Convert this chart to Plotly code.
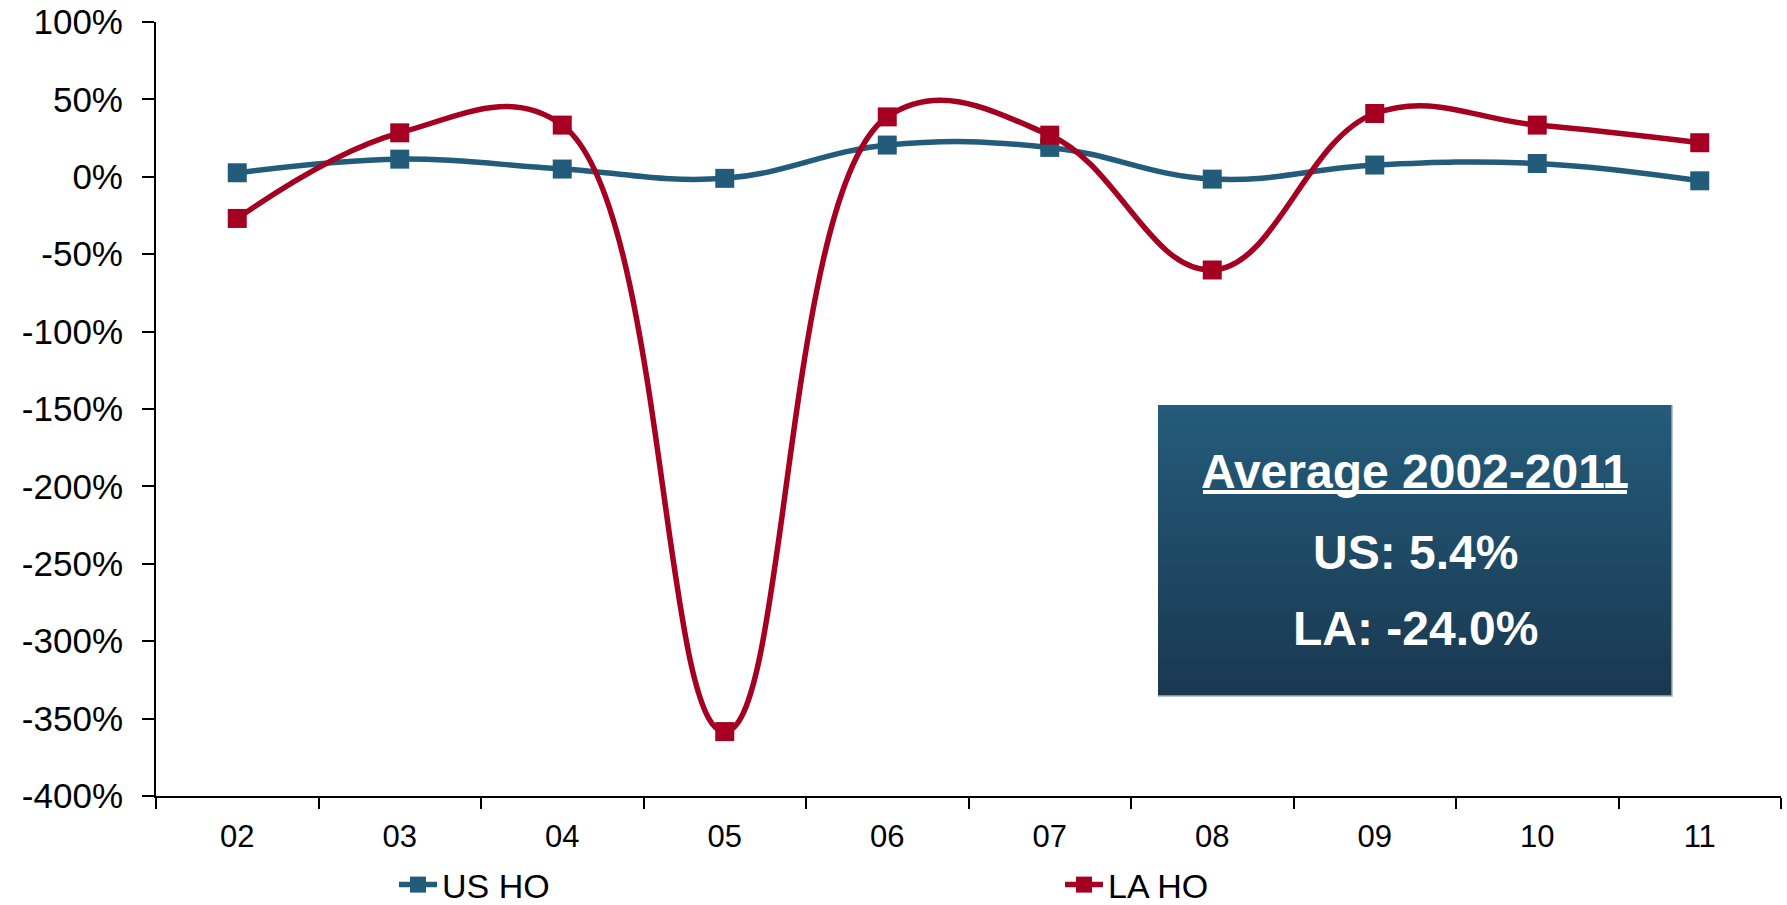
import plotly.graph_objects as go

W, H = 1787, 905
# plot area in pixels
L, R, T, B = 156, 1781, 22, 796

categories = ["02", "03", "04", "05", "06", "07", "08", "09", "10", "11"]
us_ho = [2.6, 11.4, 5.0, -1.0, 20.5, 19.0, -1.5, 7.6, 8.6, -2.6]
la_ho = [-26.9, 28.4, 33.4, -358.4, 38.7, 26.9, -60.2, 40.9, 33.4, 22.0]
y_ticks = [-400, -350, -300, -250, -200, -150, -100, -50, 0, 50, 100]
y_tick_labels = ["-400%", "-350%", "-300%", "-250%", "-200%", "-150%",
                 "-100%", "-50%", "0%", "50%", "100%"]

box_title = "Average 2002-2011"
box_lines = ["US: 5.4%", "LA: -24.0%"]

BLUE = "#235C7B"
RED = "#A50021"
FONT = "Arial, Liberation Sans, sans-serif"


def px_x(x):
    return (x - L) / (R - L)


def px_y(y):
    return (B - y) / (B - T)


fig = go.Figure()
fig.add_trace(go.Scatter(
    x=categories, y=us_ho, name="US HO", mode="lines+markers",
    line=dict(color=BLUE, width=5.5, shape="spline", smoothing=1.15),
    marker=dict(symbol="square", size=19, color=BLUE),
    legend="legend",
))
fig.add_trace(go.Scatter(
    x=categories, y=la_ho, name="LA HO", mode="lines+markers",
    line=dict(color=RED, width=5.5, shape="spline", smoothing=1.15),
    marker=dict(symbol="square", size=19, color=RED),
    legend="legend2",
))

# gradient box
x0, x1, y0, y1 = 1158, 1672, 405, 696
top = (0x24, 0x5C, 0x7B)
bot = (0x1A, 0x38, 0x50)
n = 120
shapes = []
for i in range(n):
    t = i / (n - 1)
    c = tuple(round(top[k] + (bot[k] - top[k]) * t) for k in range(3))
    ya = y0 + (y1 - y0) * i / n
    shapes.append(dict(type="rect", xref="paper", yref="paper",
                       x0=px_x(x0), x1=px_x(x1), y0=px_y(y1), y1=px_y(ya),
                       fillcolor="rgb(%d,%d,%d)" % c, line=dict(width=0), layer="above"))
# light edge on right and bottom
shapes.append(dict(type="path", xref="paper", yref="paper",
                   path="M%f,%f L%f,%f L%f,%f" % (px_x(x1), px_y(y0), px_x(x1), px_y(y1),
                                                 px_x(x0), px_y(y1)),
                   line=dict(color="#9FB0BE", width=1.5), layer="above"))
# underline of title
shapes.append(dict(type="line", xref="paper", yref="paper",
                   x0=px_x(1203), x1=px_x(1627), y0=px_y(492), y1=px_y(492),
                   line=dict(color="white", width=4), layer="above"))

annotations = []
cx = 1415
for txt, yc in zip([box_title] + box_lines, [472, 552, 628]):
    annotations.append(dict(text="<b>%s</b>" % txt, xref="paper", yref="paper",
                            x=px_x(cx), y=px_y(yc), xanchor="center", yanchor="middle",
                            showarrow=False, font=dict(family=FONT, size=48, color="white")))

fig.update_layout(
    width=W, height=H,
    margin=dict(l=L, r=W - R, t=T, b=H - B, autoexpand=False),
    paper_bgcolor="white", plot_bgcolor="white",
    font=dict(family=FONT, color="black"),
    shapes=shapes, annotations=annotations,
    legend=dict(x=px_x(394), y=px_y(885), xanchor="left", yanchor="middle",
                orientation="h", font=dict(size=34, family=FONT), itemwidth=38,
                bgcolor="rgba(0,0,0,0)", itemsizing="trace"),
    legend2=dict(x=px_x(1060), y=px_y(885), xanchor="left", yanchor="middle",
                 orientation="h", font=dict(size=34, family=FONT), itemwidth=38,
                 bgcolor="rgba(0,0,0,0)", itemsizing="trace"),
    showlegend=True,
)
fig.update_xaxes(
    type="category", tickson="boundaries", ticks="outside", ticklen=11, tickwidth=2,
    tickcolor="black", showline=True, linecolor="black", linewidth=2,
    showgrid=False, zeroline=False, tickfont=dict(size=31, family=FONT),
    range=[-0.5, 9.5], ticklabelstandoff=12,
)
fig.update_yaxes(
    range=[-400, 100], tickvals=y_ticks, ticktext=y_tick_labels, ticks="outside", ticklen=12,
    tickwidth=2, tickcolor="black", showline=True, linecolor="black", linewidth=2,
    showgrid=False, zeroline=False, tickfont=dict(size=35, family=FONT),
    ticklabelstandoff=12,
)

fig.write_html("out.html")
